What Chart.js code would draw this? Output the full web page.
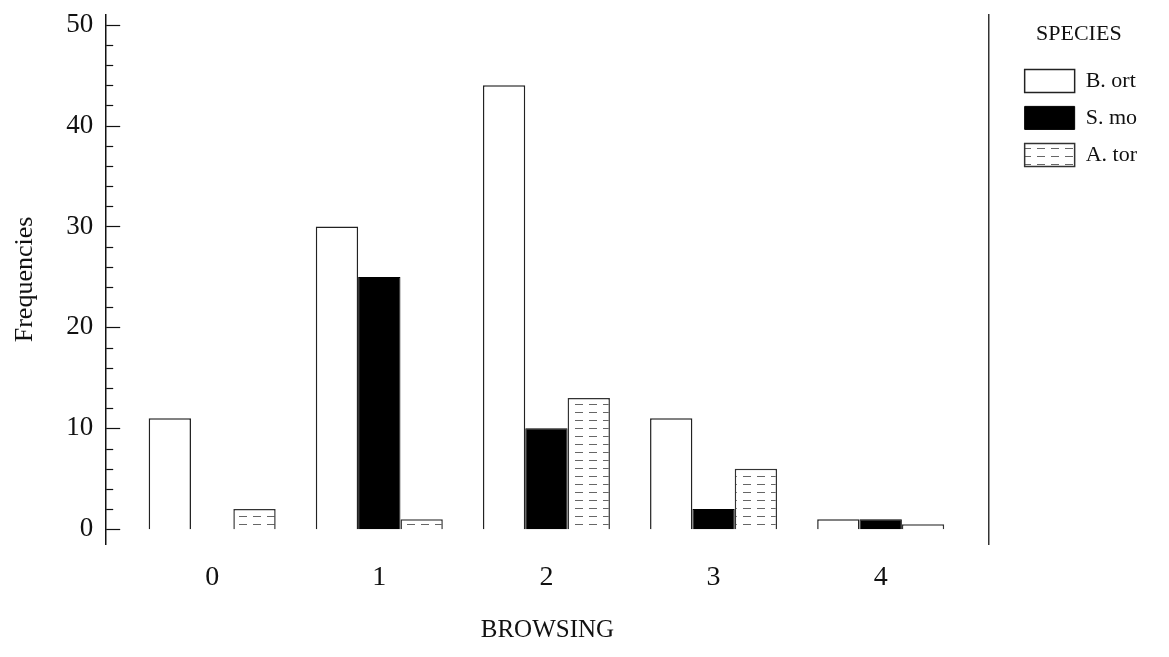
<!DOCTYPE html>
<html>
<head>
<meta charset="utf-8">
<script src="https://cdn.jsdelivr.net/npm/chart.js@4.4.1/dist/chart.umd.min.js"></script>
<style>
  html, body { margin: 0; padding: 0; background: #fff; }
  #wrap { width: 1169px; height: 657px; }
</style>
</head>
<body>
<div id="wrap"><canvas id="chart"></canvas></div>
<script>
const browsing = [0, 1, 2, 3, 4];
const species = ["B. ort", "S. mo", "A. tor"];
const bOrt = [11, 30, 44, 11, 1];
const sMo = [0, 25, 10, 2, 1];
const aTor = [2, 1, 13, 6, 0.5];
const yTicks = [0, 10, 20, 30, 40, 50];

const serif = "'Liberation Serif', 'DejaVu Serif', serif";
const canvas = document.getElementById("chart");
const ctx = canvas.getContext("2d");

// horizontal dash hatching for A. tor
function hatch() {
  const c = document.createElement("canvas");
  c.width = 14;
  c.height = 8;
  const g = c.getContext("2d");
  g.fillStyle = "#fff";
  g.fillRect(0, 0, 14, 8);
  g.strokeStyle = "#666";
  g.lineWidth = 1;
  g.beginPath();
  g.moveTo(1, 4.5);
  g.lineTo(9, 4.5);
  g.stroke();
  return ctx.createPattern(c, "repeat");
}

const toPoints = (arr) => arr.map((v, i) => ({ x: browsing[i], y: v }));

// little inward ticks on the y axis
const innerTicks = {
  id: "innerTicks",
  afterDraw(chart) {
    const y = chart.scales.y;
    const c = chart.ctx;
    c.save();
    c.strokeStyle = "#111";
    c.lineWidth = 1.2;
    for (let v = 0; v <= 50; v += 2) {
      const py = Math.round(y.getPixelForValue(v)) + 0.5;
      const len = v % 10 === 0 ? 14 : 7;
      c.beginPath();
      c.moveTo(y.right, py);
      c.lineTo(y.right + len, py);
      c.stroke();
    }
    c.restore();
  },
};

new Chart(ctx, {
  type: "bar",
  data: {
    datasets: [
      {
        label: species[0],
        data: toPoints(bOrt),
        backgroundColor: "#fff",
        borderColor: "#222",
        borderWidth: 1.5,
      },
      {
        label: species[1],
        data: toPoints(sMo),
        backgroundColor: "#000",
        borderColor: "#000",
        borderWidth: 1,
      },
      {
        label: species[2],
        data: toPoints(aTor),
        backgroundColor: hatch(),
        borderColor: "#333",
        borderWidth: 1.5,
      },
    ],
  },
  options: {
    responsive: true,
    maintainAspectRatio: false,
    animation: false,
    layout: { padding: { top: 0, right: 22, bottom: 12, left: 10 } },
    datasets: { bar: { categoryPercentage: 0.76, barPercentage: 1.0 } },
    scales: {
      x: {
        type: "linear",
        offset: false,
        min: -0.634,
        max: 4.646,
        afterBuildTicks: (s) => {
          s.ticks = browsing.map((v) => ({ value: v }));
        },
        grid: { display: false, drawTicks: false, tickLength: 0 },
        border: { display: false },
        ticks: { color: "#111", padding: 16, font: { family: serif, size: 28 } },
        title: {
          display: true,
          text: "BROWSING",
          color: "#111",
          padding: { top: 5, bottom: 0 },
          font: { family: serif, size: 25 },
        },
      },
      y: {
        min: -1.5,
        max: 51,
        afterBuildTicks: (s) => {
          s.ticks = yTicks.map((v) => ({ value: v }));
        },
        grid: { display: false, tickLength: 12 },
        border: { display: true, color: "#111", width: 1.5 },
        ticks: {
          color: "#111",
          padding: 1,
          font: { family: serif, size: 27, lineHeight: 1 },
        },
        title: {
          display: true,
          text: "Frequencies",
          color: "#111",
          padding: { top: 0, bottom: 24 },
          font: { family: serif, size: 26 },
        },
      },
      yRight: {
        position: "right",
        display: true,
        afterFit: (s) => {
          s.width = 22;
        },
        grid: { display: false },
        ticks: { display: false },
        border: { display: true, color: "#333", width: 1.5 },
      },
    },
    plugins: {
      tooltip: { enabled: false },
      legend: {
        position: "right",
        align: "start",
        title: {
          display: true,
          text: "SPECIES",
          color: "#111",
          padding: { top: 23, bottom: 6 },
          font: { family: serif, size: 22 },
        },
        labels: {
          boxWidth: 50,
          boxHeight: 23,
          padding: 14,
          color: "#111",
          font: { family: serif, size: 22 },
        },
      },
    },
  },
  plugins: [innerTicks],
});
</script>
</body>
</html>
